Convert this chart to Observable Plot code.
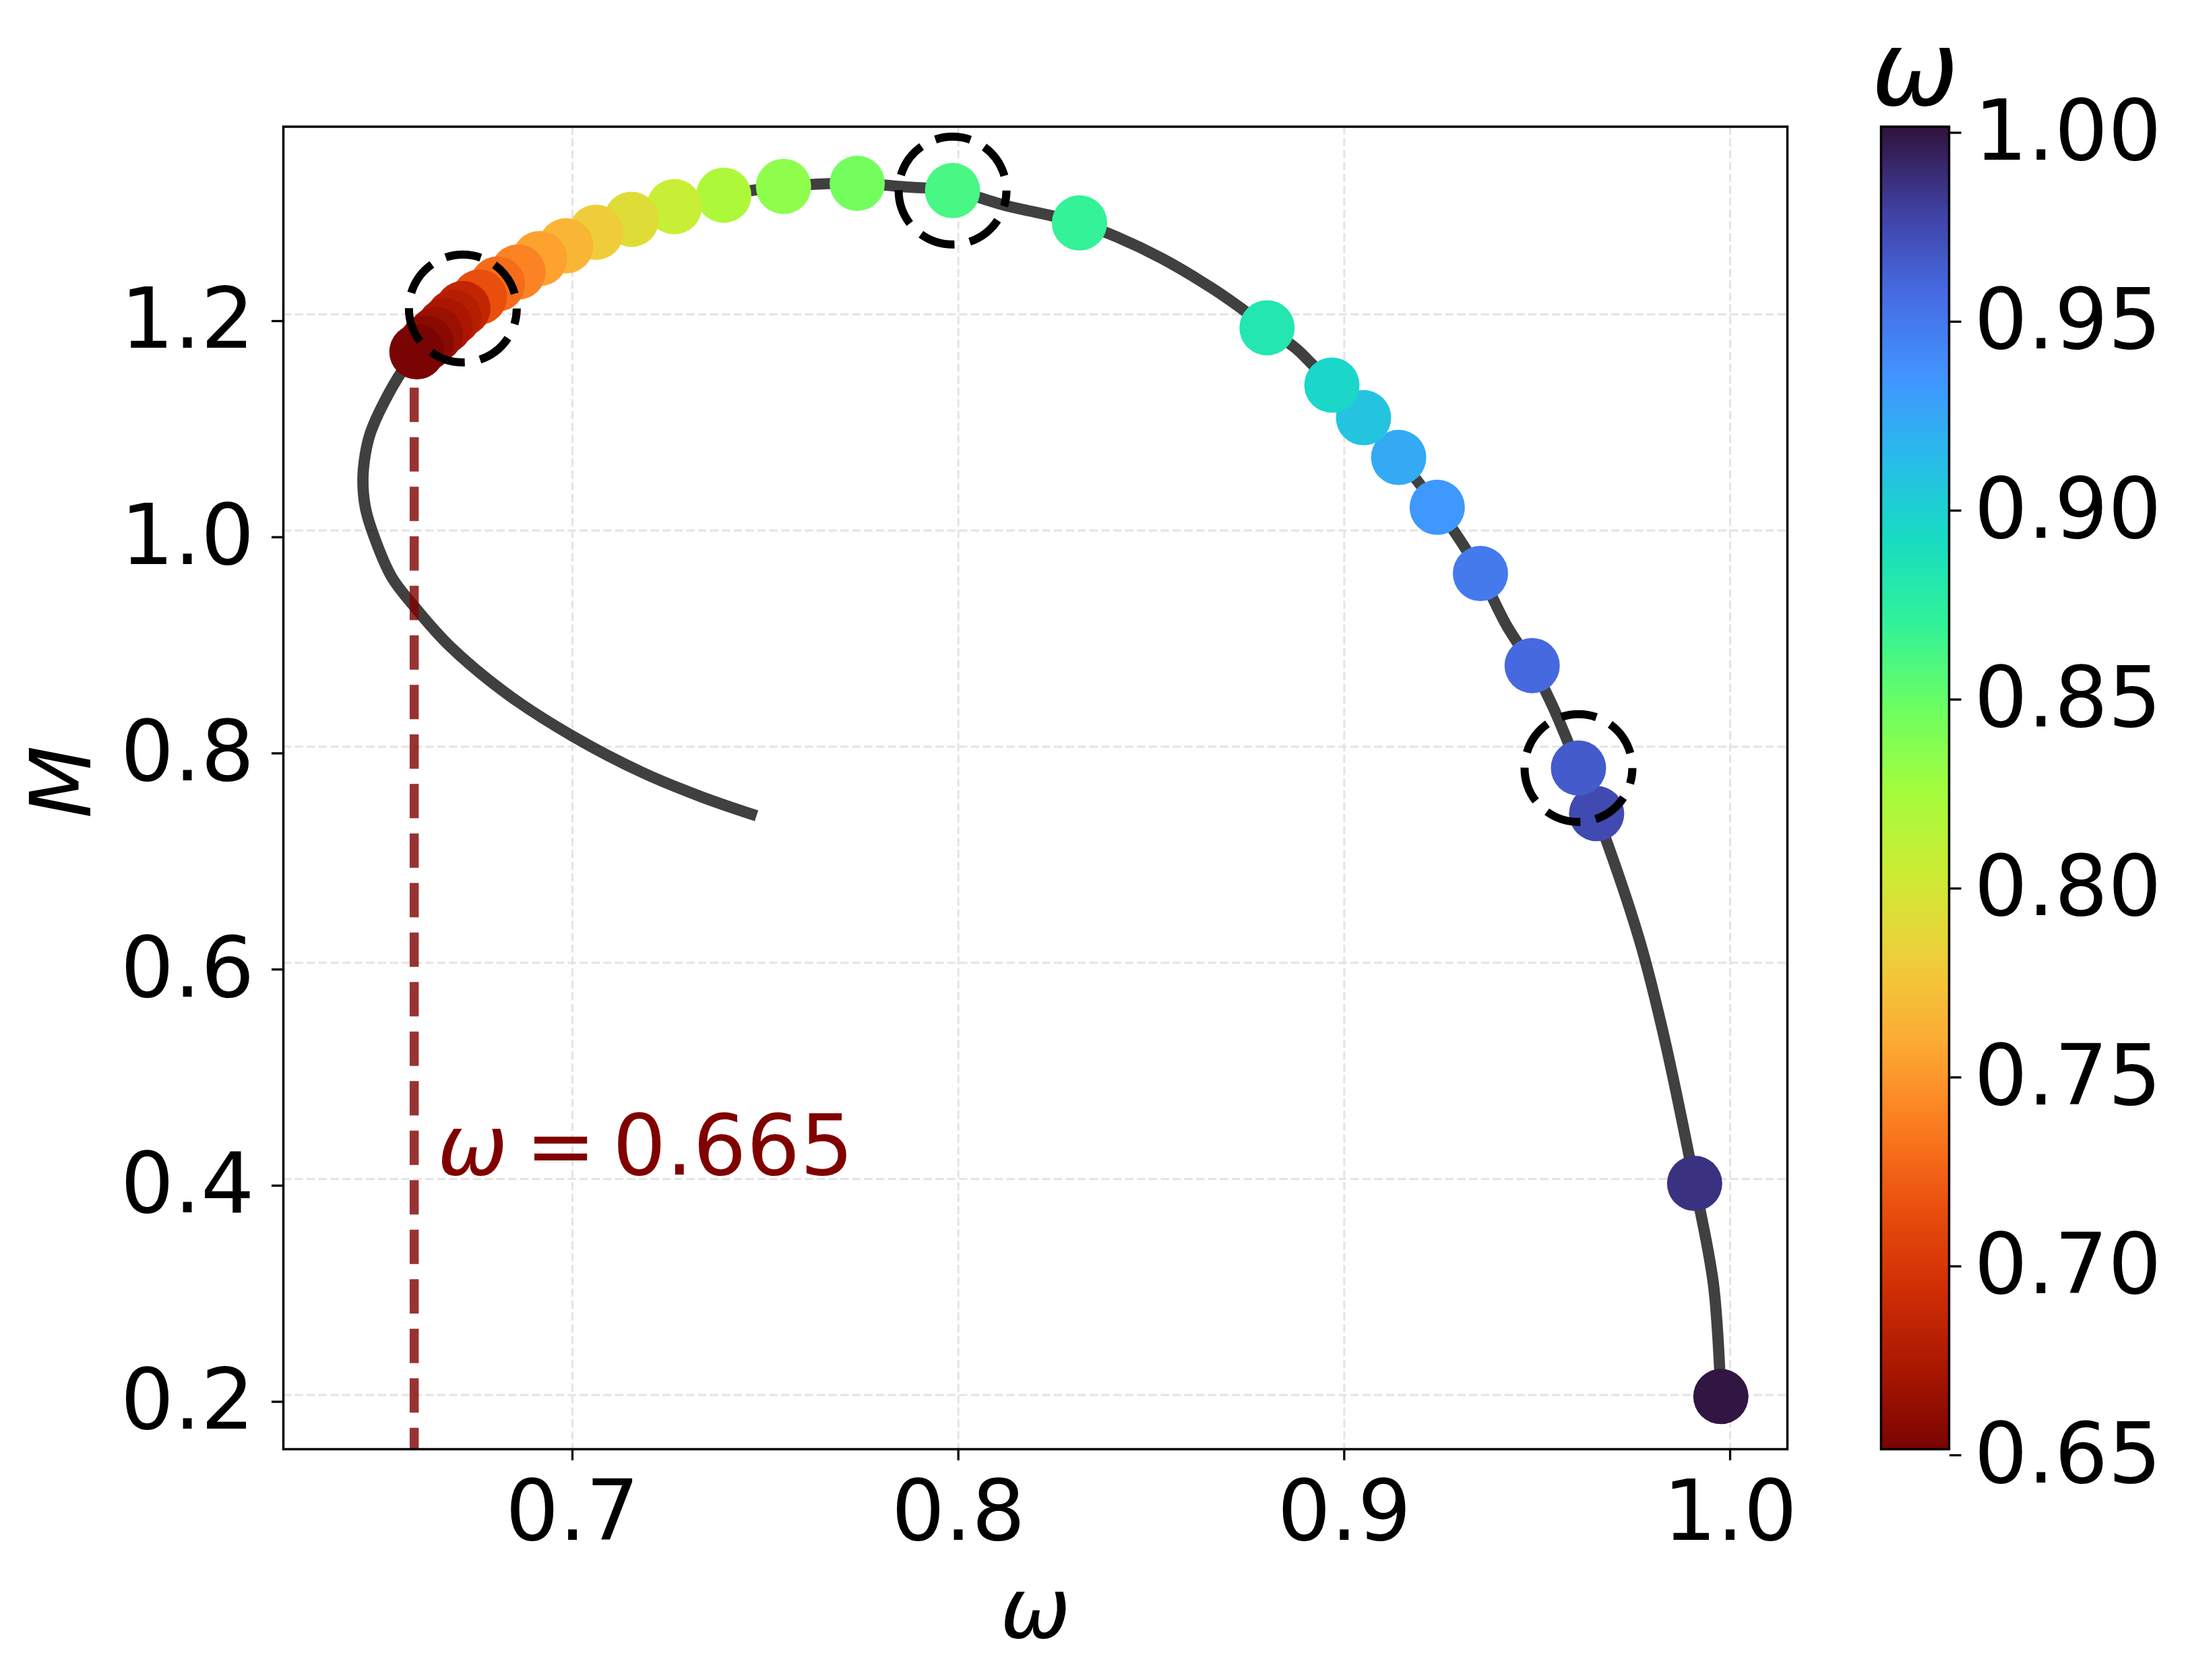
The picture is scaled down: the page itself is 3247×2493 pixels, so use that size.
<!DOCTYPE html>
<html>
<head>
<meta charset="utf-8">
<script src="https://cdn.jsdelivr.net/npm/d3@7"></script>
<script src="https://cdn.jsdelivr.net/npm/@observablehq/plot@0.6"></script>
<style>
  html, body { margin: 0; padding: 0; background: #fff; }
  #wrap { position: relative; width: 3247px; height: 2493px; overflow: hidden; background: #fff; }
  #main { position: absolute; left: 0; top: 0; }
  #cbar { position: absolute; left: 2720px; top: 0; }
  #wrap svg { max-width: none !important; display: block; }
</style>
</head>
<body>
<div id="wrap"><div id="main"></div><div id="cbar"></div></div>
<script>
// ---------------- data ----------------
// lower branch of the M(ω) curve (from its free end round the turning point)
const lowerOmega = [0.7477, 0.7334, 0.7183, 0.7003, 0.6833, 0.6683, 0.6592, 0.6532, 0.6482, 0.6463, 0.6457, 0.6463, 0.6477, 0.6512, 0.6562];
const lowerM     = [0.7360, 0.7536, 0.7758, 0.8092, 0.8481, 0.8927, 0.9289, 0.9567, 0.9984, 1.0220, 1.0463, 1.0700, 1.0908, 1.1187, 1.1493];

// extra points of the upper branch between the markers
const upperOmega = [0.7860, 0.8127, 0.8234, 0.8412, 0.8528, 0.8653, 0.8724, 0.8875, 0.8911, 0.9301, 0.9421, 0.9541, 0.9765, 0.9826, 0.9957];
const upperM     = [1.3180, 1.3003, 1.2918, 1.2714, 1.2516, 1.2252, 1.2079, 1.1684, 1.1559, 0.9906, 0.9119, 0.8367, 0.6211, 0.5358, 0.3018];

// sampled solutions (markers)
const dotOmega = [0.6597, 0.6621, 0.6645, 0.6669, 0.6692, 0.6716, 0.6759, 0.6806, 0.6859, 0.6915,
                  0.6983, 0.7061, 0.7153, 0.7264, 0.7392, 0.7547, 0.7738, 0.7985, 0.8314, 0.8800,
                  0.8968, 0.9050, 0.9141, 0.9241, 0.9353, 0.9487, 0.9607, 0.9654, 0.9908, 0.9976];
const dotM     = [1.1653, 1.1733, 1.1813, 1.1894, 1.1974, 1.2054, 1.2160, 1.2281, 1.2391, 1.2516,
                  1.2634, 1.2759, 1.2879, 1.2996, 1.3102, 1.3183, 1.3212, 1.3145, 1.2846, 1.1875,
                  1.1345, 1.1044, 1.0676, 1.0214, 0.9602, 0.8750, 0.7802, 0.7380, 0.3958, 0.1986];
const dotColorValue = [0.650, 0.657, 0.664, 0.671, 0.678, 0.684, 0.713, 0.728, 0.739, 0.753,
                       0.765, 0.779, 0.791, 0.805, 0.819, 0.833, 0.844, 0.860, 0.868, 0.881,
                       0.894, 0.907, 0.922, 0.932, 0.948, 0.957, 0.964, 0.973, 0.985, 0.998];
const highlightIndex = [5, 17, 26];

// vertical marker and its label
const markerOmega = 0.659;
const markerM = [1.178, 0.1499];
const labelOmega = 0.665;
const labelM = 0.404;
const labelParts = ["ω", "=", "0.665"];

// axes
const xDomain = [0.62509, 1.01484];
const yDomain = [0.14988, 1.37363];
const xTicks = [0.7, 0.8, 0.9, 1.0];
const yTicks = [0.2, 0.4, 0.6, 0.8, 1.0, 1.2];
const colorDomain = [0.65, 1.0];
const colorTicks = [0.65, 0.70, 0.75, 0.80, 0.85, 0.90, 0.95, 1.00];

// ---------------- colormap (matplotlib turbo, reversed) ----------------
const turboStops = ["#30123b","#4040a2","#466be3","#4294ff","#28bceb","#18ddc2","#32f298","#6dfe62",
                    "#a4fc3c","#cdec34","#eecf3a","#fdac34","#fb7e21","#eb500e","#d02f05","#a91601","#7a0403"];
const turboPos = [0,16,32,48,64,80,96,112,128,144,160,176,192,208,224,240,255].map(i => i / 255);
const turbo = d3.scaleLinear().domain(turboPos).range(turboStops).interpolate(d3.interpolateRgb).clamp(true);
const colorScale = {type: "linear", domain: colorDomain, interpolate: t => turbo(1 - t)};

// ---------------- build tables ----------------
const dots = dotOmega.map((w, i) => ({w, m: dotM[i], c: dotColorValue[i]}));
const upper = dots.map(d => ({w: d.w, m: d.m}))
  .concat(upperOmega.map((w, i) => ({w, m: upperM[i]})))
  .sort((a, b) => a.w - b.w);
const curve = lowerOmega.map((w, i) => ({w, m: lowerM[i]})).concat(upper);
const marker = markerM.map(m => ({w: markerOmega, m}));
const highlights = highlightIndex.map(i => dots[i]);
const label = [{w: labelOmega, m: labelM}];

const FONT = "'DejaVu Sans', 'Liberation Sans', sans-serif";
const FS = 125;

// ---------------- main chart ----------------
const main = Plot.plot({
  width: 2720,
  height: 2493,
  marginLeft: 420,
  marginRight: 68,
  marginTop: 187.5,
  marginBottom: 343,
  style: {fontFamily: FONT, fontSize: FS + "px", color: "black", background: "white"},
  x: {domain: xDomain, label: null},
  y: {domain: yDomain, label: null},
  color: colorScale,
  marks: [
    Plot.gridX(xTicks, {stroke: "#e4e4e4", strokeOpacity: 1, strokeWidth: 3, strokeDasharray: "12.3,5.3"}),
    Plot.gridY(yTicks, {stroke: "#e4e4e4", strokeOpacity: 1, strokeWidth: 3, strokeDasharray: "12.3,5.3"}),
    Plot.line(curve, {x: "w", y: "m", stroke: "black", strokeOpacity: 0.75, strokeWidth: 16.7,
                      curve: "catmull-rom", strokeLinecap: "butt", strokeLinejoin: "round"}),
    Plot.line(marker, {x: "w", y: "m", stroke: "#800000", strokeOpacity: 0.8, strokeWidth: 13.5,
                       strokeDasharray: "51,22.5", strokeLinecap: "butt"}),
    Plot.dot(dots.slice().reverse(), {x: "w", y: "m", r: 41, fill: "c", stroke: null}),
    Plot.dot(highlights, {x: "w", y: "m", r: 80, fill: "none", stroke: "black", strokeWidth: 12,
                          strokeDasharray: "53,23", strokeDashoffset: 29.5}),
    Plot.text(label, {x: "w", y: "m", text: () => labelParts[0], textAnchor: "start", lineAnchor: "bottom",
                      fontSize: FS, fontStyle: "italic", fill: "#800000"}),
    Plot.text(label, {x: "w", y: "m", text: () => labelParts[1], textAnchor: "start", lineAnchor: "bottom",
                      dx: 130.7, fontSize: FS, fill: "#800000"}),
    Plot.text(label, {x: "w", y: "m", text: () => labelParts[2], textAnchor: "start", lineAnchor: "bottom",
                      dx: 260, fontSize: FS, fill: "#800000"}),
    Plot.axisX({ticks: xTicks, tickFormat: d3.format(".1f"), tickSize: 17, tickPadding: 28.4,
                fontSize: FS, strokeWidth: 3.3, label: null}),
    Plot.axisY({ticks: yTicks, tickFormat: d3.format(".1f"), tickSize: 17, tickPadding: 26,
                fontSize: FS, strokeWidth: 3.3, dy: 10, label: null}),
    Plot.text(["ω"], {frameAnchor: "bottom", lineAnchor: "bottom", dy: 279, fontSize: FS, fontStyle: "italic"}),
    Plot.text(["M"], {frameAnchor: "left", lineAnchor: "bottom", rotate: -90, dx: -287, dy: 45, fontSize: FS, fontStyle: "italic"}),
    Plot.frame({stroke: "black", strokeWidth: 3.5})
  ]
});
document.getElementById("main").appendChild(main);

// ---------------- colour bar ----------------
const rampMark = (typeof Plot.raster === "function")
  ? Plot.raster({x1: 0, x2: 1, y1: colorDomain[0], y2: colorDomain[1], width: 1, height: 700,
                 fill: (x, y) => y, imageRendering: "auto"})
  : Plot.rect(d3.range(0, 700).map(i => colorDomain[0] + (colorDomain[1] - colorDomain[0]) * i / 700),
              {x1: 0, x2: 1, y1: d => d, y2: d => d + (colorDomain[1] - colorDomain[0]) / 700,
               fill: d => d, shapeRendering: "crispEdges"});

const cbar = Plot.plot({
  width: 527,
  height: 2493,
  marginLeft: 71,
  marginRight: 355,
  marginTop: 187.5,
  marginBottom: 343,
  style: {fontFamily: FONT, fontSize: FS + "px", color: "black", background: "white"},
  x: {domain: [0, 1], axis: null},
  y: {domain: colorDomain, label: null},
  color: colorScale,
  marks: [
    rampMark,
    Plot.frame({stroke: "black", strokeWidth: 3.5}),
    Plot.axisY({anchor: "right", ticks: colorTicks, tickFormat: d3.format(".2f"), tickSize: 17.5,
                tickPadding: 19.5, fontSize: FS, strokeWidth: 3.3, dy: 9, label: null}),
    Plot.text(["ω"], {frameAnchor: "top", lineAnchor: "bottom", dy: -32.5, fontSize: 155, fontStyle: "italic"})
  ]
});
document.getElementById("cbar").appendChild(cbar);
</script>
</body>
</html>
